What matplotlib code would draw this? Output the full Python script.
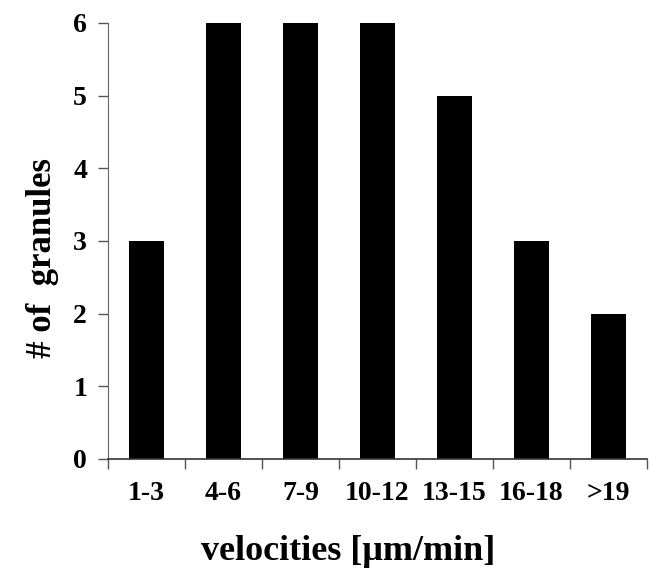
import matplotlib
matplotlib.use("Agg")
import matplotlib.pyplot as plt
import numpy as np

categories = ["1-3", "4-6", "7-9", "10-12", "13-15", "16-18", ">19"]
counts = [3, 6, 6, 6, 5, 3, 2]
yticks = [0, 1, 2, 3, 4, 5, 6]

plt.rcParams['font.family'] = ['Liberation Serif', 'DejaVu Serif']
plt.rcParams['font.weight'] = 'bold'

fig = plt.figure(figsize=(6.51, 5.68), dpi=100)
ax = fig.add_axes([108/651, 109/568, (647-108)/651, (459-23)/568])

x = np.arange(len(categories))
ax.bar(x, counts, width=0.46, color='black')

ax.set_xlim(-0.5, len(categories) - 0.5)
ax.set_ylim(0, 6)
ax.set_yticks(yticks)
ax.set_yticklabels([str(v) for v in yticks], fontsize=20, fontweight='bold')
ax.set_xticks(x)
ax.set_xticklabels(categories, fontsize=20, fontweight='bold')
ax.tick_params(axis='x', length=0, pad=16)
ax.set_xticks(np.arange(len(categories) + 1) - 0.5, minor=True)
ax.tick_params(axis='x', which='minor', length=7, width=1, color='#555555', direction='out')
ax.tick_params(axis='y', length=7, width=1, color='#555555', direction='out', pad=8)

for s in ['top', 'right']:
    ax.spines[s].set_visible(False)
ax.spines['left'].set_color('#666666')
ax.spines['bottom'].set_color('#333333')
ax.spines['bottom'].set_linewidth(1.2)

ax.set_xlabel("velocities [\u03bcm/min]", fontsize=26, fontweight='bold')
ax.xaxis.label.set_va('baseline')
ax.xaxis.set_label_coords(0.446, -0.232)
ax.set_ylabel("# of  granules", fontsize=25, fontweight='bold')
ax.yaxis.label.set_va('center')
ax.yaxis.set_label_coords(-0.122, 0.461)

fig.savefig("out.png", dpi=100)
